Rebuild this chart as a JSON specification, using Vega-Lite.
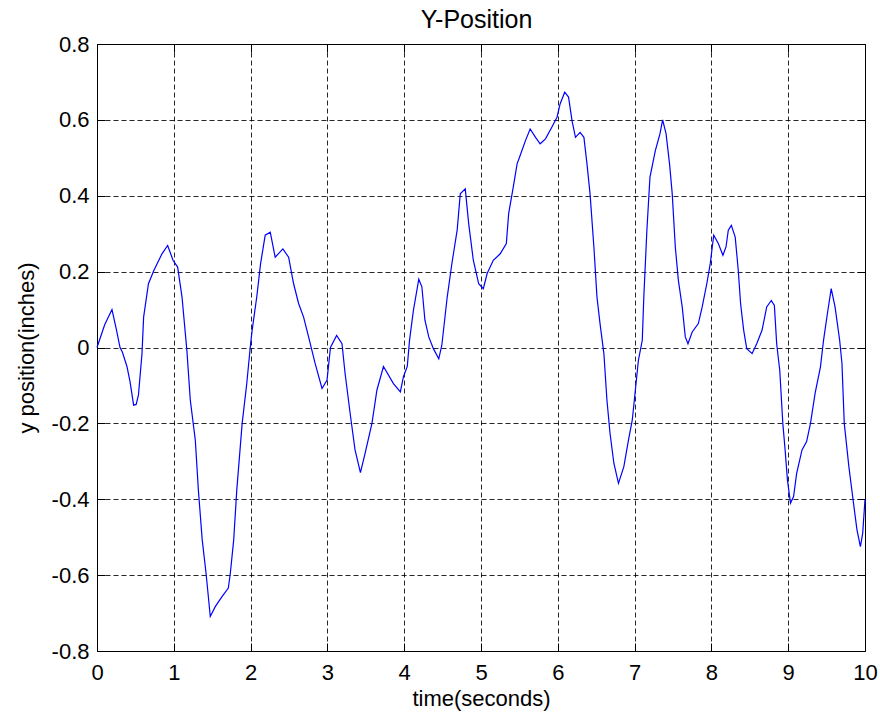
{
  "$schema": "https://vega.github.io/schema/vega-lite/v6.json",
  "width": 768,
  "height": 607,
  "autosize": {"type": "none"},
  "padding": {"left": 97, "top": 44, "right": 15, "bottom": 66},
  "background": "white",
  "config": {
    "view": {"stroke": "#000", "strokeWidth": 1},
    "axis": {"labelFont": "Liberation Sans", "titleFont": "Liberation Sans", "labelFontSize": 22, "titleFontSize": 22, "titleFontWeight": "normal", "labelColor": "#000", "titleColor": "#000", "domainColor": "#000", "tickColor": "#000", "gridColor": "#000", "gridOpacity": 0.85, "gridDash": [5, 3], "gridWidth": 1, "tickSize": -8, "tickWidth": 1}
  },
  "data": {"values": [
    {"t": 0, "y": 0}, {"t": 0.1, "y": 0.06}, {"t": 0.195, "y": 0.1}, {"t": 0.25, "y": 0.05}, {"t": 0.3, "y": 0.0},
    {"t": 0.33, "y": -0.012}, {"t": 0.39, "y": -0.05}, {"t": 0.43, "y": -0.09}, {"t": 0.477, "y": -0.152}, {"t": 0.51, "y": -0.15},
    {"t": 0.54, "y": -0.125}, {"t": 0.586, "y": -0.016}, {"t": 0.607, "y": 0.08}, {"t": 0.67, "y": 0.168}, {"t": 0.74, "y": 0.203},
    {"t": 0.846, "y": 0.247}, {"t": 0.92, "y": 0.269}, {"t": 0.99, "y": 0.23}, {"t": 1.05, "y": 0.212}, {"t": 1.107, "y": 0.133},
    {"t": 1.17, "y": -0.007}, {"t": 1.215, "y": -0.139}, {"t": 1.28, "y": -0.244}, {"t": 1.32, "y": -0.376}, {"t": 1.37, "y": -0.507},
    {"t": 1.42, "y": -0.595}, {"t": 1.475, "y": -0.709}, {"t": 1.54, "y": -0.683}, {"t": 1.63, "y": -0.656}, {"t": 1.71, "y": -0.634},
    {"t": 1.736, "y": -0.595}, {"t": 1.78, "y": -0.507}, {"t": 1.82, "y": -0.376}, {"t": 1.89, "y": -0.2}, {"t": 1.95, "y": -0.095},
    {"t": 2.0, "y": 0.01}, {"t": 2.02, "y": 0.045}, {"t": 2.08, "y": 0.133}, {"t": 2.13, "y": 0.221}, {"t": 2.19, "y": 0.296},
    {"t": 2.256, "y": 0.304}, {"t": 2.32, "y": 0.238}, {"t": 2.42, "y": 0.26}, {"t": 2.495, "y": 0.238}, {"t": 2.56, "y": 0.168},
    {"t": 2.625, "y": 0.116}, {"t": 2.69, "y": 0.08}, {"t": 2.755, "y": 0.028}, {"t": 2.84, "y": -0.042}, {"t": 2.93, "y": -0.108},
    {"t": 2.995, "y": -0.086}, {"t": 3.04, "y": 0.0}, {"t": 3.12, "y": 0.032}, {"t": 3.19, "y": 0.01}, {"t": 3.23, "y": -0.068},
    {"t": 3.3, "y": -0.18}, {"t": 3.36, "y": -0.27}, {"t": 3.43, "y": -0.33}, {"t": 3.49, "y": -0.28}, {"t": 3.58, "y": -0.2},
    {"t": 3.645, "y": -0.112}, {"t": 3.73, "y": -0.05}, {"t": 3.86, "y": -0.095}, {"t": 3.95, "y": -0.117}, {"t": 3.99, "y": -0.077},
    {"t": 4.04, "y": -0.05}, {"t": 4.07, "y": 0.02}, {"t": 4.12, "y": 0.098}, {"t": 4.19, "y": 0.18}, {"t": 4.23, "y": 0.16},
    {"t": 4.27, "y": 0.072}, {"t": 4.32, "y": 0.028}, {"t": 4.38, "y": -0.003}, {"t": 4.45, "y": -0.03}, {"t": 4.49, "y": 0.006},
    {"t": 4.56, "y": 0.133}, {"t": 4.62, "y": 0.22}, {"t": 4.69, "y": 0.31}, {"t": 4.73, "y": 0.405}, {"t": 4.795, "y": 0.418},
    {"t": 4.84, "y": 0.326}, {"t": 4.9, "y": 0.23}, {"t": 4.97, "y": 0.168}, {"t": 5.03, "y": 0.155}, {"t": 5.08, "y": 0.195},
    {"t": 5.16, "y": 0.23}, {"t": 5.25, "y": 0.247}, {"t": 5.33, "y": 0.274}, {"t": 5.36, "y": 0.353}, {"t": 5.42, "y": 0.423},
    {"t": 5.47, "y": 0.484}, {"t": 5.51, "y": 0.506}, {"t": 5.58, "y": 0.546}, {"t": 5.64, "y": 0.576}, {"t": 5.71, "y": 0.554},
    {"t": 5.77, "y": 0.537}, {"t": 5.84, "y": 0.55}, {"t": 5.92, "y": 0.58}, {"t": 5.99, "y": 0.607}, {"t": 6.03, "y": 0.642},
    {"t": 6.09, "y": 0.673}, {"t": 6.14, "y": 0.66}, {"t": 6.185, "y": 0.598}, {"t": 6.23, "y": 0.554}, {"t": 6.29, "y": 0.567},
    {"t": 6.34, "y": 0.554}, {"t": 6.38, "y": 0.484}, {"t": 6.42, "y": 0.405}, {"t": 6.47, "y": 0.265}, {"t": 6.51, "y": 0.133},
    {"t": 6.55, "y": 0.063}, {"t": 6.6, "y": -0.016}, {"t": 6.64, "y": -0.139}, {"t": 6.68, "y": -0.226}, {"t": 6.73, "y": -0.305},
    {"t": 6.79, "y": -0.358}, {"t": 6.86, "y": -0.314}, {"t": 6.92, "y": -0.244}, {"t": 6.97, "y": -0.191}, {"t": 7.01, "y": -0.112},
    {"t": 7.05, "y": -0.033}, {"t": 7.1, "y": 0.019}, {"t": 7.12, "y": 0.133}, {"t": 7.16, "y": 0.309}, {"t": 7.2, "y": 0.449},
    {"t": 7.27, "y": 0.519}, {"t": 7.33, "y": 0.563}, {"t": 7.365, "y": 0.6}, {"t": 7.41, "y": 0.563}, {"t": 7.455, "y": 0.484},
    {"t": 7.49, "y": 0.405}, {"t": 7.53, "y": 0.265}, {"t": 7.57, "y": 0.177}, {"t": 7.62, "y": 0.107}, {"t": 7.66, "y": 0.028},
    {"t": 7.695, "y": 0.01}, {"t": 7.75, "y": 0.041}, {"t": 7.83, "y": 0.063}, {"t": 7.88, "y": 0.107}, {"t": 7.94, "y": 0.168},
    {"t": 7.985, "y": 0.221}, {"t": 8.03, "y": 0.296}, {"t": 8.09, "y": 0.274}, {"t": 8.15, "y": 0.243}, {"t": 8.19, "y": 0.265},
    {"t": 8.22, "y": 0.309}, {"t": 8.26, "y": 0.322}, {"t": 8.31, "y": 0.291}, {"t": 8.35, "y": 0.203}, {"t": 8.38, "y": 0.116},
    {"t": 8.42, "y": 0.046}, {"t": 8.46, "y": -0.003}, {"t": 8.53, "y": -0.016}, {"t": 8.59, "y": 0.01}, {"t": 8.66, "y": 0.046},
    {"t": 8.72, "y": 0.107}, {"t": 8.78, "y": 0.124}, {"t": 8.82, "y": 0.111}, {"t": 8.85, "y": 0.01}, {"t": 8.89, "y": -0.06},
    {"t": 8.93, "y": -0.2}, {"t": 8.96, "y": -0.27}, {"t": 8.99, "y": -0.349}, {"t": 9.03, "y": -0.41}, {"t": 9.07, "y": -0.393},
    {"t": 9.11, "y": -0.332}, {"t": 9.18, "y": -0.27}, {"t": 9.24, "y": -0.248}, {"t": 9.29, "y": -0.2}, {"t": 9.35, "y": -0.121},
    {"t": 9.42, "y": -0.051}, {"t": 9.46, "y": 0.019}, {"t": 9.51, "y": 0.089}, {"t": 9.56, "y": 0.155}, {"t": 9.61, "y": 0.107},
    {"t": 9.67, "y": 0.019}, {"t": 9.7, "y": -0.042}, {"t": 9.73, "y": -0.2}, {"t": 9.79, "y": -0.314}, {"t": 9.85, "y": -0.41},
    {"t": 9.895, "y": -0.48}, {"t": 9.94, "y": -0.525}, {"t": 9.97, "y": -0.49}, {"t": 10.0, "y": -0.4}
  ]},
  "layer": [
    {
      "mark": {"type": "line", "color": "#0000FF", "strokeWidth": 1.2, "interpolate": "linear"},
      "encoding": {
        "x": {"field": "t", "type": "quantitative", "scale": {"domain": [0, 10], "nice": false, "zero": false},
          "axis": {"values": [0,1,2,3,4,5,6,7,8,9,10], "title": "time(seconds)", "grid": true, "labelBaseline": "alphabetic", "labelPadding": 36, "titleBaseline": "alphabetic", "titleY": 54, "titleX": 384, "domain": false, "labelFlush": false}},
        "y": {"field": "y", "type": "quantitative", "scale": {"domain": [-0.8, 0.8], "nice": false, "zero": false},
          "axis": {"values": [-0.8,-0.6,-0.4,-0.2,0,0.2,0.4,0.6,0.8], "title": "y position(inches)", "grid": true, "labelPadding": 16, "labelExpr": "toString(round(datum.value*10)/10)", "titleAngle": 270, "titleBaseline": "alphabetic", "titleX": -64, "titleY": 303.5, "titleAlign": "center", "domain": false, "labelFlush": false}}
      }
    },
    {
      "mark": {"type": "point", "opacity": 0},
      "encoding": {
        "x": {"field": "t", "type": "quantitative", "axis": {"orient": "top", "values": [0,1,2,3,4,5,6,7,8,9,10], "labels": false, "title": "Y-Position", "titleFontSize": 25, "titleFont": "Liberation Sans", "titleFontWeight": "normal", "titleBaseline": "alphabetic", "titleX": 379, "titleY": -17, "titleAlign": "center", "grid": false, "domain": false}},
        "y": {"field": "y", "type": "quantitative", "axis": {"orient": "right", "values": [-0.8,-0.6,-0.4,-0.2,0,0.2,0.4,0.6,0.8], "labels": false, "title": null, "grid": false, "domain": false}}
      }
    }
  ],
  "resolve": {"axis": {"x": "independent", "y": "independent"}}
}
